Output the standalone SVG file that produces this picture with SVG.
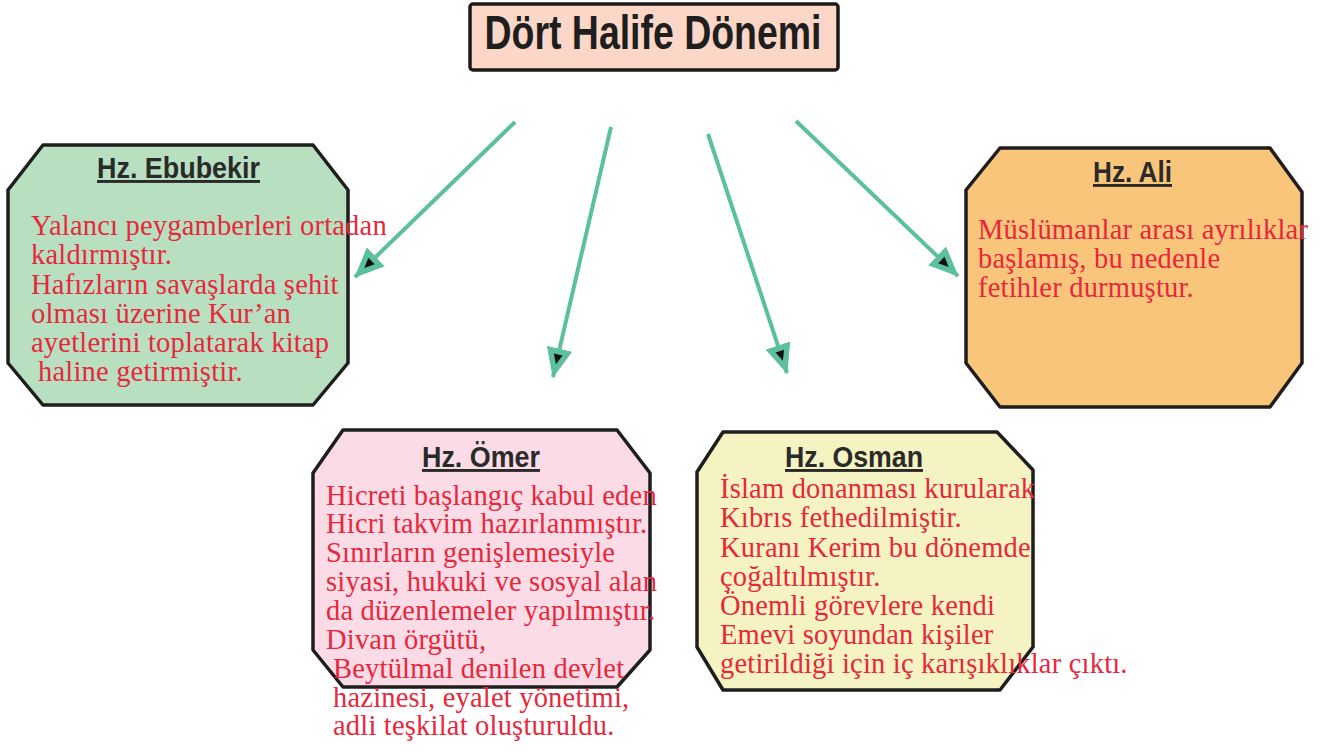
<svg xmlns="http://www.w3.org/2000/svg" width="1337" height="751" viewBox="0 0 1337 751">
<style>
.box{stroke:#1e1e1e;stroke-width:3.5;stroke-linejoin:round}
.ttl{font-family:"Liberation Sans",Arial,sans-serif;font-weight:bold;font-size:29px;fill:#2a2a2a;text-anchor:middle;text-decoration:underline}
.txt{font-family:"Liberation Serif","Times New Roman",serif;font-size:28.5px;fill:#e6283d;letter-spacing:0.2px}
.arr{stroke:#5cbf9e;stroke-width:4;fill:none;marker-end:url(#ah)}
</style>
<defs>
<marker id="ah" viewBox="0 0 30 26" refX="29" refY="13" markerWidth="30" markerHeight="26" orient="auto" markerUnits="userSpaceOnUse">
<path d="M0,0 L30,13 L0,26 z" fill="#5cbf9e"/>
<path d="M6,8.5 L16,13 L6,17.5 z" fill="#111"/>
</marker>
</defs>
<rect width="1337" height="751" fill="#ffffff"/>
<g id="title">
<rect x="470" y="4" width="368" height="66" rx="3" fill="#fcd6c6" stroke="#1a1a1a" stroke-width="3.5"/>
<text x="653" y="49" font-family="'Liberation Sans',Arial,sans-serif" font-weight="bold" font-size="48" fill="#1e1e1e" text-anchor="middle" textLength="337" lengthAdjust="spacingAndGlyphs">Dört Halife Dönemi</text>
</g>
<g id="connectors">
<line class="arr" x1="515" y1="122" x2="355" y2="277"/>
<line class="arr" x1="611" y1="127" x2="553" y2="377"/>
<line class="arr" x1="708" y1="134" x2="787" y2="373"/>
<line class="arr" x1="796" y1="121" x2="958" y2="276"/>
</g>
<g id="ebubekir">
<polygon class="box" fill="#b8dfc0" points="43,145 313,145 348,190 348,363 313,405 43,405 8,363 8,190"/>
<text class="ttl" x="178.5" y="178" textLength="163" lengthAdjust="spacingAndGlyphs">Hz. Ebubekir</text>
<text class="txt" x="31" y="235">Yalancı peygamberleri ortadan</text>
<text class="txt" x="31" y="264">kaldırmıştır.</text>
<text class="txt" x="31" y="294">Hafızların savaşlarda şehit</text>
<text class="txt" x="31" y="323">olması üzerine Kur’an</text>
<text class="txt" x="31" y="352">ayetlerini toplatarak kitap</text>
<text class="txt" x="31" y="381"> <tspan x="38">haline getirmiştir.</tspan></text>
</g>
<g id="omer">
<polygon class="box" fill="#fadbe6" points="343,430 617,430 650,473 650,650 617,687 343,687 313,650 313,473"/>
<text class="ttl" x="481" y="467" textLength="118" lengthAdjust="spacingAndGlyphs">Hz. Ömer</text>
<text class="txt" x="326" y="505">Hicreti başlangıç kabul eden</text>
<text class="txt" x="326" y="533">Hicri takvim hazırlanmıştır.</text>
<text class="txt" x="326" y="562">Sınırların genişlemesiyle</text>
<text class="txt" x="326" y="591">siyasi, hukuki ve sosyal alan</text>
<text class="txt" x="326" y="620">da düzenlemeler yapılmıştır.</text>
<text class="txt" x="326" y="649">Divan örgütü,</text>
<text class="txt" x="333" y="678">Beytülmal denilen devlet</text>
<text class="txt" x="333" y="707">hazinesi, eyalet yönetimi,</text>
<text class="txt" x="333" y="735">adli teşkilat oluşturuldu.</text>
</g>
<g id="osman">
<polygon class="box" fill="#f5f3c1" points="723,432 997,432 1033,470 1033,647 1000,690 723,690 697,647 697,472"/>
<text class="ttl" x="854" y="467" textLength="138" lengthAdjust="spacingAndGlyphs">Hz. Osman</text>
<text class="txt" x="720" y="498">İslam donanması kurularak</text>
<text class="txt" x="720" y="527">Kıbrıs fethedilmiştir.</text>
<text class="txt" x="720" y="557">Kuranı Kerim bu dönemde</text>
<text class="txt" x="720" y="586">çoğaltılmıştır.</text>
<text class="txt" x="720" y="615">Önemli görevlere kendi</text>
<text class="txt" x="720" y="644">Emevi soyundan kişiler</text>
<text class="txt" x="720" y="673">getirildiği için iç karışıklıklar çıktı.</text>
</g>
<g id="ali">
<polygon class="box" fill="#f9c57b" points="1000,148 1270,148 1302,192 1302,363 1270,407 1000,407 966,363 966,190"/>
<text class="ttl" x="1132.5" y="182" textLength="79" lengthAdjust="spacingAndGlyphs">Hz. Ali</text>
<text class="txt" x="978" y="239">Müslümanlar arası ayrılıklar</text>
<text class="txt" x="978" y="268">başlamış, bu nedenle</text>
<text class="txt" x="978" y="297">fetihler durmuştur.</text>
</g>
</svg>
